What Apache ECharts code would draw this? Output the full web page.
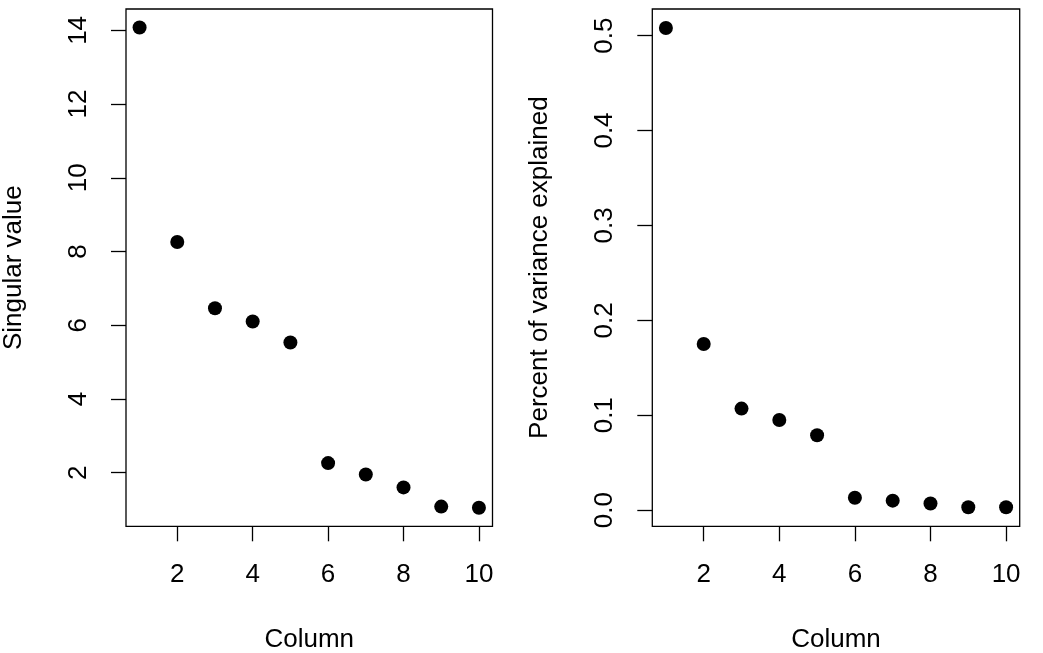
<!DOCTYPE html>
<html>
<head>
<meta charset="utf-8">
<script src="https://cdn.jsdelivr.net/npm/echarts@6/dist/echarts.min.js"></script>
<style>
html,body{margin:0;padding:0;background:#fff;}
#chart{width:1043px;height:653px;}
</style>
</head>
<body>
<div id="chart"></div>
<script>
// Data
var columns = [1, 2, 3, 4, 5, 6, 7, 8, 9, 10];
var singularValues = [14.08, 8.26, 6.46, 6.10, 5.53, 2.26, 1.95, 1.60, 1.08, 1.05];
var varianceExplained = [0.508, 0.175, 0.107, 0.095, 0.079, 0.013, 0.010, 0.007, 0.003, 0.003];
var xTicks = [2, 4, 6, 8, 10];
var yTicksLeft = [2, 4, 6, 8, 10, 12, 14];
var yTicksRight = [0, 0.1, 0.2, 0.3, 0.4, 0.5];

var FONT = '"Liberation Sans", Arial, Helvetica, sans-serif';
var FS = 26;

function pairs(xs, ys) { return xs.map(function (x, i) { return [x, ys[i]]; }); }

function xAxisCfg(gridIndex) {
  return {
    type: 'value', gridIndex: gridIndex, min: 0.64, max: 10.36,
    name: 'Column', nameLocation: 'middle', nameGap: 101,
    nameTextStyle: { fontFamily: FONT, fontSize: FS, color: '#000' },
    axisLine: { show: false, onZero: false },
    splitLine: { show: false },
    axisTick: { show: true, inside: false, customValues: xTicks, length: 15, lineStyle: { color: '#000', width: 1.3 } },
    axisLabel: { show: true, customValues: xTicks, margin: 36, fontFamily: FONT, fontSize: FS, color: '#000' }
  };
}

function yAxisCfg(gridIndex, name, min, max, ticks, fmt) {
  return {
    type: 'value', gridIndex: gridIndex, min: min, max: max,
    name: name, nameLocation: 'middle', nameGap: 99, nameRotate: 90,
    nameTextStyle: { fontFamily: FONT, fontSize: FS, color: '#000' },
    axisLine: { show: false, onZero: false },
    splitLine: { show: false },
    axisTick: { show: true, inside: false, customValues: ticks, length: 15, lineStyle: { color: '#000', width: 1.3 } },
    axisLabel: { show: true, customValues: ticks, rotate: 90, margin: 34, fontFamily: FONT, fontSize: FS, color: '#000', formatter: fmt }
  };
}

var chart = echarts.init(document.getElementById('chart'), null, { renderer: 'canvas' });
chart.setOption({
  backgroundColor: '#fff',
  animation: false,
  grid: [
    { left: 126, top: 9, width: 366.5, height: 517.3, containLabel: false, outerBoundsMode: 'none', show: true, borderColor: '#000', borderWidth: 1.3, backgroundColor: 'transparent' },
    { left: 652.3, top: 9, width: 367.4, height: 517.3, containLabel: false, outerBoundsMode: 'none', show: true, borderColor: '#000', borderWidth: 1.3, backgroundColor: 'transparent' }
  ],
  xAxis: [xAxisCfg(0), xAxisCfg(1)],
  yAxis: [
    yAxisCfg(0, 'Singular value', 0.545, 14.58, yTicksLeft, function (v) { return String(v); }),
    yAxisCfg(1, 'Percent of variance explained', -0.017, 0.528, yTicksRight, function (v) { return v.toFixed(1); })
  ],
  series: [
    { type: 'scatter', xAxisIndex: 0, yAxisIndex: 0, data: pairs(columns, singularValues), symbol: 'circle', symbolSize: 14, itemStyle: { color: '#000', opacity: 1 } },
    { type: 'scatter', xAxisIndex: 1, yAxisIndex: 1, data: pairs(columns, varianceExplained), symbol: 'circle', symbolSize: 14, itemStyle: { color: '#000', opacity: 1 } }
  ]
});
</script>
</body>
</html>
